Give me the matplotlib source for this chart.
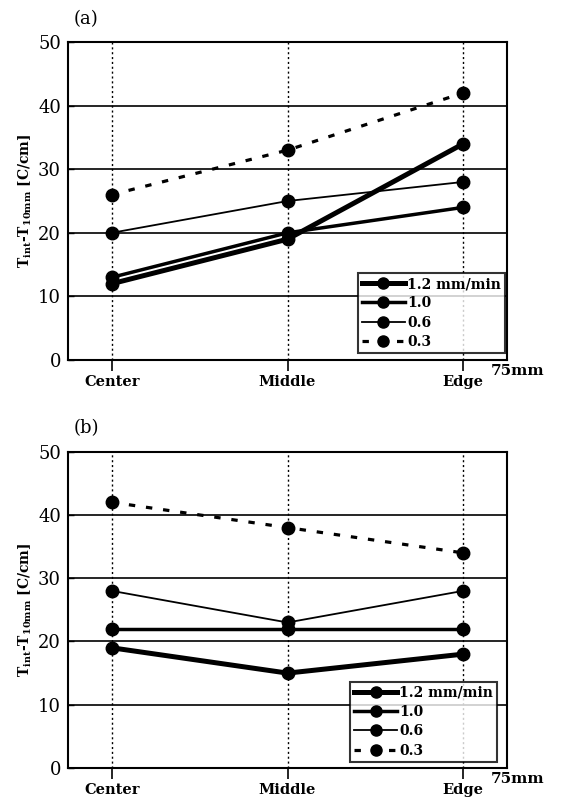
import matplotlib
matplotlib.use("Agg")
import matplotlib.pyplot as plt

categories = ["Center", "Middle", "Edge"]
series_labels = ["1.2 mm/min", "1.0", "0.6", "0.3"]
a_values = {
    "1.2 mm/min": [12, 19, 34],
    "1.0": [13, 20, 24],
    "0.6": [20, 25, 28],
    "0.3": [26, 33, 42],
}
b_values = {
    "1.2 mm/min": [19, 15, 18],
    "1.0": [22, 22, 22],
    "0.6": [28, 23, 28],
    "0.3": [42, 38, 34],
}
y_ticks = [0, 10, 20, 30, 40, 50]

styles = {
    "1.2 mm/min": dict(lw=3.6, ls="-"),
    "1.0": dict(lw=2.5, ls="-"),
    "0.6": dict(lw=1.3, ls="-"),
    "0.3": dict(lw=2.3, ls=(0, (2.0, 3.4))),
}

plt.rcParams["font.family"] = ["DejaVu Serif"]

fig = plt.figure(figsize=(5.61, 8.02), dpi=100)
ax_a = fig.add_axes([0.121, 0.5511, 0.783, 0.3965])
ax_b = fig.add_axes([0.121, 0.0424, 0.783, 0.3944])

def draw(ax, values, tag, legend_anchor):
    x = list(range(len(categories)))
    for xi in x:
        ax.axvline(xi, color="black", lw=1.0, ls=(0, (1.5, 2.0)), zorder=1)
    for yv in y_ticks[1:-1]:
        ax.axhline(yv, color="black", lw=1.2, zorder=1)
    for lab in series_labels:
        st = styles[lab]
        ax.plot(x, values[lab], color="black", lw=st["lw"], ls=st["ls"],
                marker="o", markersize=9, label=lab, zorder=3)
    ax.set_xlim(-0.25, 2.25)
    ax.set_ylim(0, 50)
    ax.set_xticks(x)
    ax.set_xticklabels(categories, fontsize=10.5, fontweight="bold")
    ax.set_yticks(y_ticks)
    ax.set_yticklabels([str(v) for v in y_ticks], fontsize=13)
    ax.tick_params(axis="x", direction="out", length=8, width=1.2, pad=3)
    ax.tick_params(axis="y", direction="in", length=4, width=1.0, pad=5)
    for sp in ax.spines.values():
        sp.set_linewidth(1.5)
    ax.set_ylabel(r"$\mathregular{T_{int}}$-$\mathregular{T_{10mm}}$ [C/cm]",
                  fontsize=10, fontweight="bold", labelpad=3)
    ax.text(0.012, 1.045, tag, transform=ax.transAxes, fontsize=13,
            ha="left", va="bottom")
    ax.text(0.963, -0.036, "75mm", transform=ax.transAxes, fontsize=11,
            fontweight="bold", ha="left", va="center")
    leg = ax.legend(loc="lower right", bbox_to_anchor=legend_anchor,
                    fontsize=10, frameon=True, fancybox=False,
                    edgecolor="black", handlelength=3.1, handletextpad=0.15,
                    borderpad=0.3, labelspacing=0.38, borderaxespad=0.0)
    leg.get_frame().set_linewidth(1.5)
    for t in leg.get_texts():
        t.set_fontweight("bold")
    for h in leg.legend_handles:
        h.set_markersize(8)

draw(ax_a, a_values, "(a)", (0.995, 0.022))
draw(ax_b, b_values, "(b)", (0.978, 0.02))

fig.savefig("out.png", dpi=100)
